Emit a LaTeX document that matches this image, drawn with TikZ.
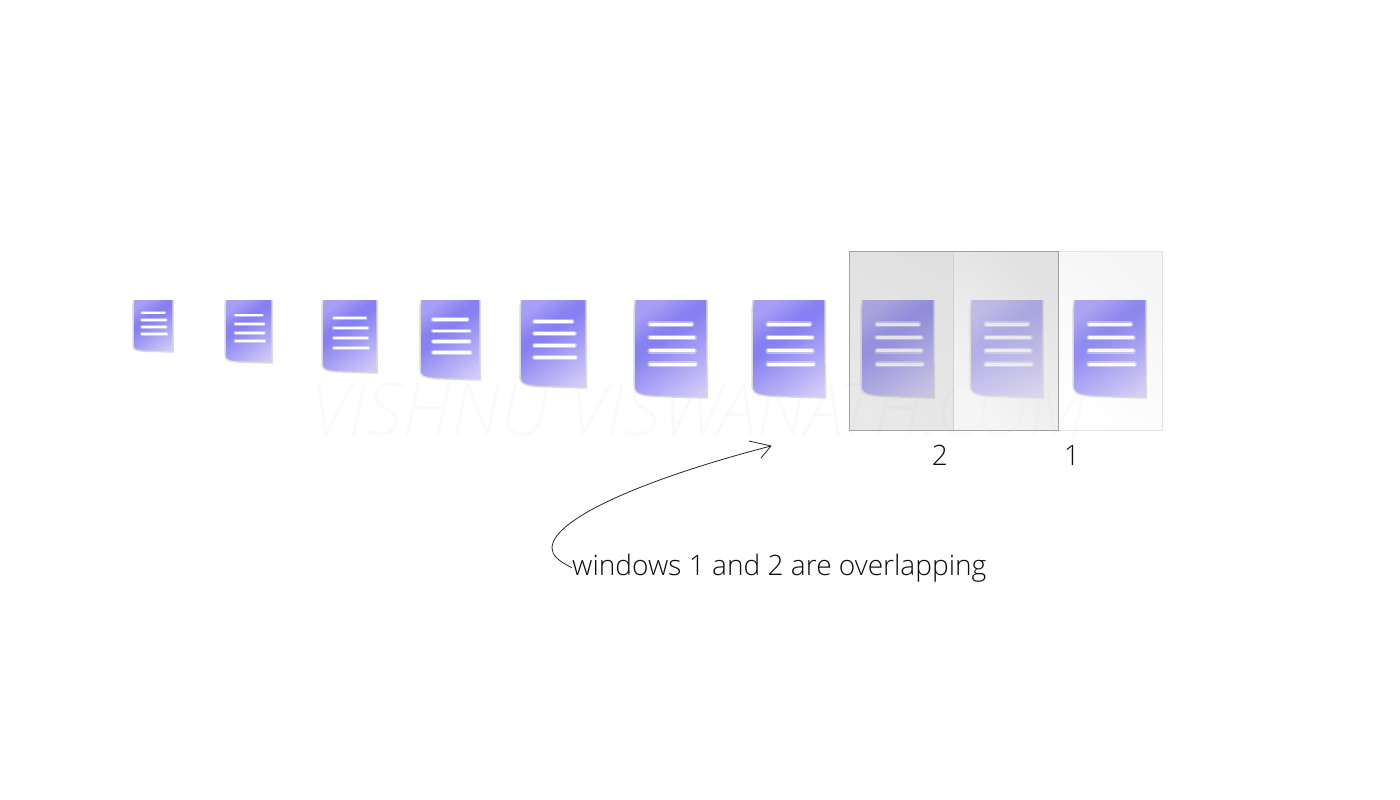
\documentclass[tikz,border=0pt]{standalone}
\usepackage{fontspec}
\setmainfont{Open Sans Light}[ItalicFont={Open Sans Light Italic}]
\usetikzlibrary{arrows.meta}
\definecolor{docA}{HTML}{A79EF6}
\definecolor{docB}{HTML}{8680F2}
\definecolor{docC}{HTML}{D2CAF8}
\definecolor{edgegray}{HTML}{DADADA}
\definecolor{winLa}{gray}{.64}
\definecolor{winLb}{gray}{.74}
\definecolor{winMa}{gray}{.77}
\definecolor{winMb}{gray}{.93}
\definecolor{winRa}{gray}{.69}
\definecolor{lineA}{gray}{.63}
\definecolor{lineM}{gray}{.82}
\definecolor{lineR}{gray}{.89}
\definecolor{markgray}{gray}{.94}
\pgfdeclarehorizontalshading{docgrad}{100bp}{color(0bp)=(docA); color(24bp)=(docA); color(38bp)=(docB); color(43bp)=(docB); color(80bp)=(docC); color(100bp)=(docC)}
\tikzset{
  docbody/.style={shading=docgrad,shading angle=-55},
  docedge/.style={draw=edgegray,line width=#1,line join=round},
  textline/.style={white,line width=#1,line cap=round},
  textglow/.style={white,opacity=.4,line width=#1,line cap=round},
  label/.style={font=\fontsize{28.1}{34}\selectfont,text=black!95,inner sep=0pt},
}
% x, y, width, height, line thickness
\newcommand{\docpic}[5]{%
  \begin{scope}[shift={(#1,#2)},x=#3pt,y=-#4pt]
    \shade[docbody] (.015,0) -- (1,0) -- (1.005,1) -- (.30,.985)
      .. controls (.18,.98) and (.09,.97) .. (.04,.945)
      .. controls (.01,.93) and (0,.90) .. (0,.85)
      -- (0,.15) .. controls (0,.08) and (.01,.04) .. (.015,0) -- cycle;
    \draw[docedge=1.5pt] (1,0) -- (1.005,1) -- (.30,.985)
      .. controls (.18,.98) and (.09,.97) .. (.04,.945)
      .. controls (.01,.93) and (0,.90) .. (0,.85)
      -- (0,.15) .. controls (0,.08) and (.01,.04) .. (.015,0);
    \foreach \ya/\xb in {.245/.79,.385/.825,.52/.825,.655/.84}{
      \draw[textglow=#5*1.8pt] (.22,\ya) -- (\xb,\ya);
      \draw[textline=#5*1pt] (.22,\ya) -- (\xb,\ya);
    }
  \end{scope}}
\begin{document}
\begin{tikzpicture}[x=1pt,y=-1pt]
\useasboundingbox (0,0) rectangle (1400,800);
\fill[white] (0,0) rectangle (1400,800);
% watermark
\node[font=\fontsize{73}{80}\selectfont\itshape,text=markgray,text opacity=.3,inner sep=0pt,anchor=base west] (mark) at (310,435) {VISHNU VISWANATH.COM};
\docpic{133}{300}{40}{52}{1.9}
\docpic{225}{300}{47}{63}{2.1}
\docpic{322}{300}{55}{73}{2.3}
\docpic{420}{300}{60}{80}{2.5}
\docpic{520}{300}{66}{88}{2.8}
\docpic{634}{300}{73}{98}{3}
\docpic{752}{300}{73}{98}{3}
\docpic{861}{300}{73}{98}{3}
\docpic{970}{300}{73}{98}{3}
\docpic{1073}{300}{73}{98}{3}
% overlapping windows
\shade[fill opacity=.33,left color=winLa,right color=winLb,shading angle=-30] (849,251) rectangle (953,430);
\shade[fill opacity=.5,left color=winMa,right color=winMb,shading angle=-40] (953,251) rectangle (1058,430);
\shade[fill opacity=.12,left color=winRa,right color=white,shading angle=-40] (1058,251) rectangle (1162,430);
\draw[draw=lineR,line width=1pt] (1058,251) -- (1162,251) -- (1162,430) -- (1058,430);
\draw[draw=lineM,line width=1pt] (953,251) -- (953,430);
\draw[draw=lineA,line width=1pt] (849,251) rectangle (1058,430);
% labels
\node[label,anchor=base] (two) at (940,465) {2};
\node[label,anchor=base] (one) at (1072,465) {1};
\node[label,anchor=base west] (note) at (572,575) {windows 1 and 2 are overlapping};
% arrow
\coordinate (tip) at (771,446);
\coordinate (barbA) at (749,441);
\coordinate (barbB) at (761,458);
\draw[line width=.8pt,black!85] (note.west) .. controls (558,561) and (552,555) .. (552,548) .. controls (552,520) and (640,480) .. (tip);
\draw[line width=.8pt,black!85,line join=round] (barbA) -- (tip) -- (barbB);
\end{tikzpicture}
\end{document}
